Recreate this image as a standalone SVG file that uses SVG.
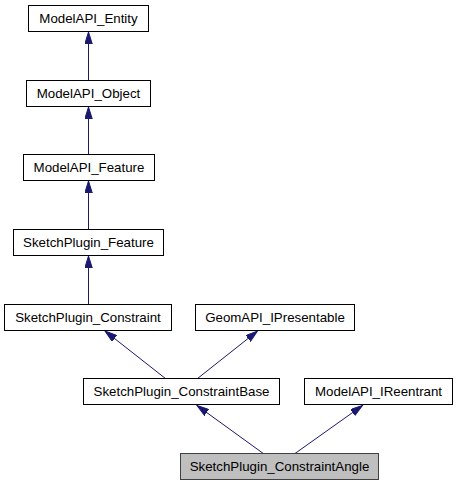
<svg xmlns="http://www.w3.org/2000/svg" width="457" height="485" viewBox="0 0 457 485">
<style>
.n rect{fill:#ffffff;stroke:#000000;stroke-width:1}
.n.cur rect{fill:#bfbfbf;stroke:#404040}
.n text{font-family:"Liberation Sans",Arial,sans-serif;font-size:13.3px;text-anchor:middle;fill:#000000}
.e line{stroke:#191970;stroke-width:1;marker-end:url(#ah)}
</style>
<defs>
<marker id="ah" markerUnits="userSpaceOnUse" markerWidth="13" markerHeight="8" refX="12" refY="3.75" orient="auto">
<path d="M0,0 L12,3.75 L0,7.5 z" fill="#191970" stroke="#191970" stroke-width="1"/>
</marker>
</defs>
<g id="edges" class="e">
<line x1="88.5" y1="80" x2="88.5" y2="32"/>
<line x1="88.5" y1="154" x2="88.5" y2="107"/>
<line x1="88.5" y1="229" x2="88.5" y2="181"/>
<line x1="88.5" y1="304" x2="88.5" y2="256"/>
<line x1="165.7" y1="378.7" x2="105" y2="331"/>
<line x1="197.3" y1="378.7" x2="257.5" y2="331"/>
<line x1="263.3" y1="453.5" x2="197" y2="405.5"/>
<line x1="295" y1="453.5" x2="362.5" y2="405.5"/>
</g>
<g id="ModelAPI_Entity" class="n"><rect x="28.5" y="5.5" width="120" height="26"/><text x="88.5" y="23">ModelAPI_Entity</text></g>
<g id="ModelAPI_Object" class="n"><rect x="26.5" y="80.5" width="124" height="26"/><text x="88.5" y="98">ModelAPI_Object</text></g>
<g id="ModelAPI_Feature" class="n"><rect x="23.5" y="154.5" width="131" height="26"/><text x="89" y="172">ModelAPI_Feature</text></g>
<g id="SketchPlugin_Feature" class="n"><rect x="13.5" y="229.5" width="150" height="26"/><text x="88.5" y="247">SketchPlugin_Feature</text></g>
<g id="SketchPlugin_Constraint" class="n"><rect x="4.5" y="304.5" width="167" height="26"/><text x="88" y="322">SketchPlugin_Constraint</text></g>
<g id="GeomAPI_IPresentable" class="n"><rect x="195.5" y="304.5" width="159" height="26"/><text x="275" y="322">GeomAPI_IPresentable</text></g>
<g id="SketchPlugin_ConstraintBase" class="n"><rect x="83.5" y="378.5" width="196" height="26"/><text x="181.5" y="396">SketchPlugin_ConstraintBase</text></g>
<g id="ModelAPI_IReentrant" class="n"><rect x="304.5" y="378.5" width="148" height="26"/><text x="378.5" y="396">ModelAPI_IReentrant</text></g>
<g id="SketchPlugin_ConstraintAngle" class="n cur"><rect x="180.5" y="453.5" width="198" height="26"/><text x="279.5" y="471">SketchPlugin_ConstraintAngle</text></g>
</svg>
